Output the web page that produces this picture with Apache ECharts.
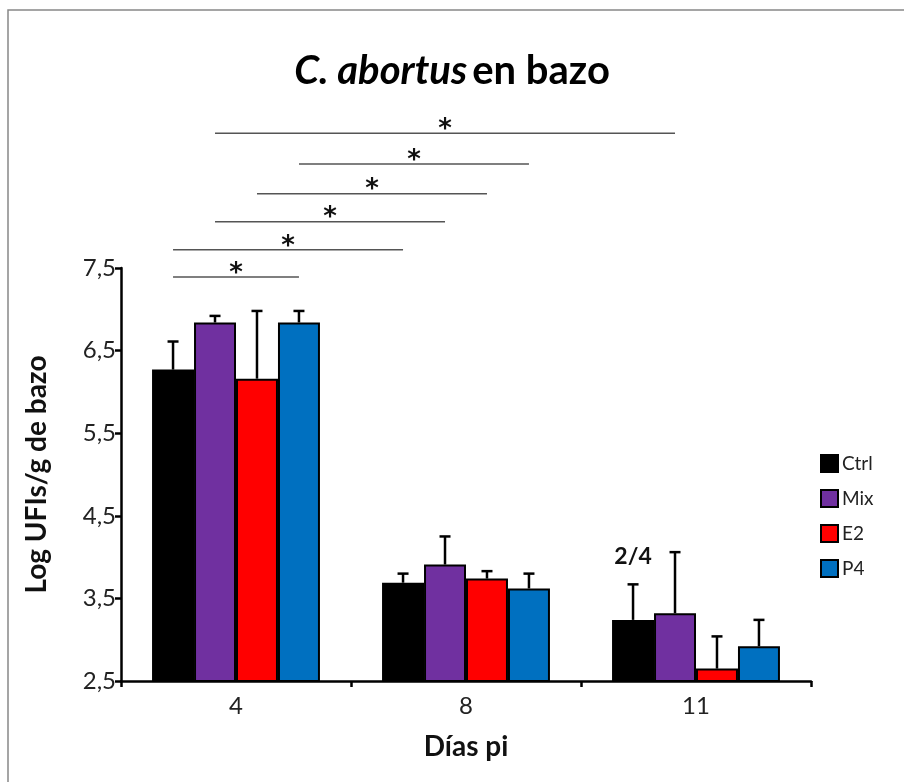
<!DOCTYPE html>
<html>
<head>
<meta charset="utf-8">
<script src="https://cdn.jsdelivr.net/npm/echarts@6/dist/echarts.min.js"></script>
<style>html,body{margin:0;padding:0;background:#fff;}#main{width:904px;height:782px;}</style>
</head>
<body>
<div id="main"></div>
<script>
const categories = ['4', '8', '11'];
const seriesNames = ['Ctrl', 'Mix', 'E2', 'P4'];
const ctrlValues = [6.27, 3.69, 3.24];
const ctrlErrors = [0.34, 0.11, 0.43];
const mixValues = [6.84, 3.91, 3.32];
const mixErrors = [0.08, 0.34, 0.74];
const e2Values = [6.16, 3.74, 2.65];
const e2Errors = [0.82, 0.09, 0.39];
const p4Values = [6.84, 3.62, 2.92];
const p4Errors = [0.14, 0.18, 0.32];
const ctrlNotes = ['', '', '2/4'];
const yMin = 2.5, yMax = 7.5, yStep = 1;
// significance brackets: [seriesA, categoryA, seriesB, categoryB, level]
const sigBrackets = [
  [0, 0, 3, 0, 7.39],
  [0, 0, 0, 1, 7.72],
  [1, 0, 1, 1, 8.06],
  [2, 0, 2, 1, 8.40],
  [3, 0, 3, 1, 8.76],
  [1, 0, 1, 2, 9.13]
];

const colors = ['#000000', '#7030A0', '#FF0000', '#0070C0'];
const values = [ctrlValues, mixValues, e2Values, p4Values];
const errors = [ctrlErrors, mixErrors, e2Errors, p4Errors];
const notes = [ctrlNotes, null, null, null];
const catGap = 0.27;
const nSeries = seriesNames.length;
const FONT = 'Lato';

function barCenter(s, c) {
  const used = 1 - catGap;
  return c + catGap / 2 + (s + 0.5) * used / nSeries;
}

const series = [];
seriesNames.forEach((name, s) => {
  series.push({
    name: name,
    type: 'bar',
    xAxisIndex: 0, yAxisIndex: 0,
    data: values[s],
    barGap: '0%',
    barCategoryGap: (catGap * 100) + '%',
    itemStyle: { color: colors[s], borderColor: '#000', borderWidth: 2 },
    z: 2
  });
});
seriesNames.forEach((name, s) => {
  series.push({
    name: name + '_err',
    type: 'custom',
    xAxisIndex: 0, yAxisIndex: 0,
    z: 5,
    data: values[s].map((v, i) => [i, v, errors[s][i]]),
    renderItem: function (params, api) {
      const ci = api.value(0), v = api.value(1), e = api.value(2);
      const base = api.coord([ci, v]);
      const band = api.size([1, 0])[0];
      const bw = band * (1 - catGap) / nSeries;
      const x = base[0] + (s - (nSeries - 1) / 2) * bw;
      const top = api.coord([ci, v + e])[1];
      const children = [
        { type: 'line', shape: { x1: x, y1: base[1], x2: x, y2: top }, style: { stroke: '#000', lineWidth: 2.5 } },
        { type: 'line', shape: { x1: x - 5.5, y1: top, x2: x + 5.5, y2: top }, style: { stroke: '#000', lineWidth: 2.5 } }
      ];
      const note = notes[s] ? notes[s][params.dataIndex] : '';
      if (note) {
        children.push({ type: 'text', style: { text: note, x: x, y: top - 16, align: 'center', verticalAlign: 'bottom', font: 'bold 23px ' + FONT, fill: '#111' } });
      }
      return { type: 'group', children: children };
    }
  });
});
series.push({
  name: 'sig',
  type: 'custom',
  xAxisIndex: 1, yAxisIndex: 0,
  clip: false,
  z: 5,
  data: sigBrackets.map(b => [barCenter(b[0], b[1]), barCenter(b[2], b[3]), b[4]]),
  renderItem: function (params, api) {
    const p1 = api.coord([api.value(0), api.value(2)]);
    const p2 = api.coord([api.value(1), api.value(2)]);
    return {
      type: 'group',
      children: [
        { type: 'line', shape: { x1: p1[0], y1: p1[1], x2: p2[0], y2: p2[1] }, style: { stroke: '#555', lineWidth: 1.5 } },
        { type: 'text', style: { text: '*', x: (p1[0] + p2[0]) / 2, y: p1[1] + 10, align: 'center', verticalAlign: 'bottom', font: 'bold 26px "DejaVu Sans"', fill: '#111' } }
      ]
    };
  }
});

const chart = echarts.init(document.getElementById('main'));
chart.setOption({
  backgroundColor: '#fff',
  animation: false,
  title: {
    text: '{i|C. abortus} {b|en bazo}',
    left: 'center',
    top: 46,
    textStyle: {
      rich: {
        i: { fontFamily: FONT, fontSize: 40, fontWeight: 'bold', fontStyle: 'italic', color: '#000' },
        b: { fontFamily: FONT, fontSize: 40, fontWeight: 'bold', color: '#000' }
      }
    }
  },
  legend: {
    data: seriesNames,
    orient: 'vertical',
    left: 815,
    top: 449,
    icon: 'rect',
    itemWidth: 17,
    itemHeight: 17,
    itemGap: 16,
    itemStyle: { borderColor: '#000', borderWidth: 2 },
    textStyle: { fontFamily: FONT, fontSize: 19, color: '#222', lineHeight: 18, padding: [0, 0, 0, -1] }
  },
  graphic: [{
    type: 'rect', shape: { x: 8, y: 10, width: 910, height: 790 },
    style: { fill: 'none', stroke: '#888', lineWidth: 1.5 }, silent: true
  }],
  grid: { left: 121, right: 93, top: 268, bottom: 101, containLabel: false },
  xAxis: [{
    type: 'category',
    data: categories,
    name: 'Días pi',
    nameLocation: 'middle',
    nameGap: 52,
    nameTextStyle: { fontFamily: FONT, fontSize: 28, fontWeight: 'bold', color: '#111' },
    axisLine: { lineStyle: { color: '#000', width: 2.5 } },
    axisTick: { show: true, length: 6, lineStyle: { color: '#000', width: 2.5 } },
    axisLabel: { fontFamily: FONT, fontSize: 24, color: '#222', margin: 13 }
  }, {
    type: 'value', min: 0, max: categories.length, show: false
  }],
  yAxis: [{
    type: 'value',
    min: yMin, max: yMax, interval: yStep,
    name: 'Log UFIs/g de bazo',
    nameLocation: 'middle',
    nameGap: 70,
    nameTextStyle: { fontFamily: FONT, fontSize: 28, fontWeight: 'bold', color: '#111' },
    axisLine: { show: true, lineStyle: { color: '#000', width: 2.5 } },
    axisTick: { show: true, length: 6, lineStyle: { color: '#000', width: 2.5 } },
    splitLine: { show: false },
    axisLabel: { fontFamily: FONT, fontSize: 24, color: '#222', margin: 5, formatter: v => String(v).replace('.', ',') }
  }],
  series: series
});
</script>
</body>
</html>
